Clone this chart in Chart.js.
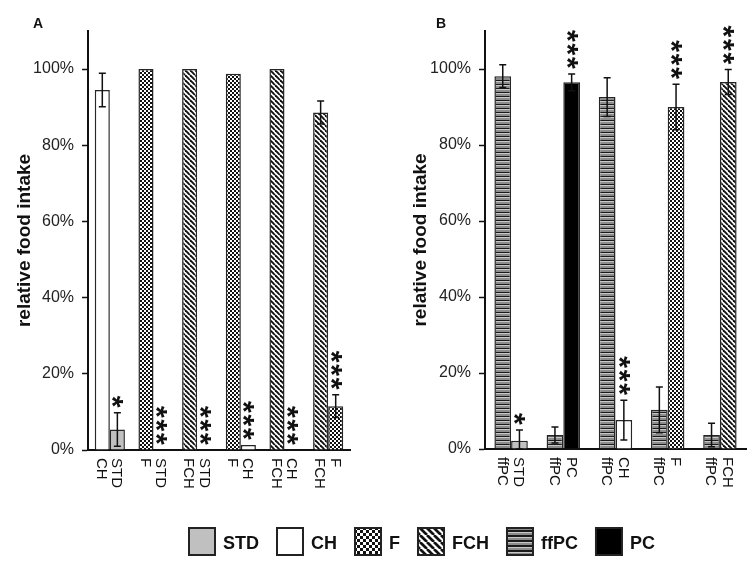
<!DOCTYPE html>
<html>
<head>
<meta charset="utf-8">
<script src="https://cdn.jsdelivr.net/npm/chart.js@4.4.1/dist/chart.umd.min.js"></script>
<style>
  body { margin: 0; background: #fff; }
  #wrap { position: relative; width: 756px; height: 564px; }
  canvas { position: absolute; }
</style>
</head>
<body>
<div id="wrap">
  <canvas id="chartA" width="378" height="500" style="left:0;top:0;width:378px;height:500px"></canvas>
  <canvas id="chartB" width="378" height="500" style="left:378px;top:0;width:378px;height:500px"></canvas>
  <canvas id="legend" width="756" height="64" style="left:0;top:500px;width:756px;height:64px"></canvas>
</div>
<script>
// Panel A: left bar / right bar of each pair
const aLeftNames = ["CH", "F", "FCH", "F", "FCH", "FCH"];
const aRightNames = ["STD", "STD", "STD", "CH", "CH", "F"];
const aLeftValues = [94.5, 100, 100, 98.8, 100, 88.6];
const aLeftErrors = [4.4, 0, 0, 0, 0, 3.0];
const aRightValues = [5.4, 0, 0, 1.3, 0, 11.5];
const aRightErrors = [4.4, 0, 0, 0, 0, 3.0];
const aLeftSig = ["", "", "", "", "", ""];
const aRightSig = ["*", "***", "***", "***", "***", "***"];

// Panel B
const bLeftNames = ["ffPC", "ffPC", "ffPC", "ffPC", "ffPC"];
const bRightNames = ["STD", "PC", "CH", "F", "FCH"];
const bLeftValues = [98.1, 3.7, 92.6, 10.3, 3.7];
const bLeftErrors = [3.0, 2.1, 5.1, 6.0, 3.1];
const bRightValues = [2.2, 96.5, 7.6, 90.0, 96.6];
const bRightErrors = [2.8, 2.2, 5.2, 6.0, 3.3];
const bLeftSig = ["", "", "", "", ""];
const bRightSig = ["*", "***", "***", "***", "***"];

const yTicks = [0, 20, 40, 60, 80, 100];
const legendNames = ["STD", "CH", "F", "FCH", "ffPC", "PC"];

const FONT = "'Liberation Sans', Arial, sans-serif";

// fill patterns for each diet
function makeFill(name, ctx, s) {
  if (name === "STD") return "#c0c0c0";
  if (name === "CH") return "#ffffff";
  if (name === "PC") return "#000000";
  const c = document.createElement("canvas");
  const g = c.getContext("2d");
  if (name === "F") {
    const cell = s > 1 ? 3 : 2;
    c.width = c.height = cell * 2;
    g.fillStyle = "#ffffff";
    g.fillRect(0, 0, cell * 2, cell * 2);
    g.fillStyle = "#111111";
    g.fillRect(0, 0, cell, cell);
    g.fillRect(cell, cell, cell, cell);
  } else if (name === "FCH") {
    const t = s > 1 ? 7 : 5;
    c.width = c.height = t;
    g.fillStyle = "#ffffff";
    g.fillRect(0, 0, t, t);
    g.strokeStyle = "#111111";
    g.lineWidth = t * 0.38;
    [-t, 0, t].forEach((o) => {
      g.beginPath();
      g.moveTo(o, 0);
      g.lineTo(o + t, t);
      g.stroke();
    });
  } else if (name === "ffPC") {
    const h = s > 1 ? 5 : 4;
    c.width = 4;
    c.height = h;
    g.fillStyle = "#8c8c8c";
    g.fillRect(0, 0, 4, h);
    g.fillStyle = "#1a1a1a";
    g.fillRect(0, 0, 4, s > 1 ? 2 : 1);
    g.fillStyle = "#c8c8c8";
    g.fillRect(0, s > 1 ? 2 : 1, 4, 1);
  }
  return ctx.createPattern(c, "repeat");
}

function drawStar(ctx, x, cy) {
  ctx.save();
  ctx.translate(x, cy);
  ctx.rotate(Math.PI / 2);
  ctx.font = "bold 30px " + FONT;
  ctx.textAlign = "left";
  ctx.textBaseline = "alphabetic";
  const m = ctx.measureText("*");
  const cx = (m.actualBoundingBoxRight - m.actualBoundingBoxLeft) / 2;
  const cyy = (m.actualBoundingBoxDescent - m.actualBoundingBoxAscent) / 2;
  ctx.fillStyle = "#111";
  ctx.fillText("*", -cx, -cyy);
  ctx.restore();
}

const overlay = {
  id: "overlay",
  afterDatasetsDraw(chart, args, opts) {
    const ctx = chart.ctx;
    const y = chart.scales.y;
    const bottom = chart.chartArea.bottom;
    chart.data.datasets.forEach((ds, di) => {
      const meta = chart.getDatasetMeta(di);
      meta.data.forEach((bar, i) => {
        const v = ds.data[i];
        const e = ds.err[i];
        let top = y.getPixelForValue(v);
        ctx.save();
        if (e > 0) {
          const y1 = y.getPixelForValue(v + e);
          const y2 = y.getPixelForValue(Math.max(0, v - e));
          ctx.strokeStyle = "#111";
          ctx.lineWidth = 1.5;
          ctx.beginPath();
          ctx.moveTo(bar.x, y1);
          ctx.lineTo(bar.x, y2);
          ctx.moveTo(bar.x - 3.5, y1);
          ctx.lineTo(bar.x + 3.5, y1);
          ctx.moveTo(bar.x - 3.5, y2);
          ctx.lineTo(bar.x + 3.5, y2);
          ctx.stroke();
          top = y1;
        }
        ctx.restore();
        const sig = ds.sig[i];
        for (let k = 0; k < sig.length; k++) {
          drawStar(ctx, bar.x, top - 11 - k * 13.5);
        }
        // rotated label under the bar
        ctx.save();
        ctx.translate(bar.x, bottom + 8);
        ctx.rotate(Math.PI / 2);
        ctx.font = "15px " + FONT;
        ctx.fillStyle = "#111";
        ctx.textAlign = "left";
        ctx.textBaseline = "middle";
        ctx.fillText(ds.names[i], 0, 1);
        ctx.restore();
      });
    });
    ctx.save();
    ctx.font = "bold 14px " + FONT;
    ctx.fillStyle = "#111";
    ctx.textAlign = "left";
    ctx.textBaseline = "alphabetic";
    ctx.fillText(opts.letter, opts.letterX, 28);
    ctx.restore();
  },
};

function buildChart(id, cfg) {
  const canvas = document.getElementById(id);
  const ctx = canvas.getContext("2d");
  const mk = (names, values, errs, sig) => ({
    data: values,
    err: errs,
    sig: sig,
    names: names,
    backgroundColor: names.map((n) => makeFill(n, ctx, 1)),
    borderColor: "#262626",
    borderWidth: 1.5,
    categoryPercentage: cfg.catPct,
    barPercentage: 1.0,
  });
  return new Chart(canvas, {
    type: "bar",
    data: {
      labels: cfg.left.map((n, i) => n + "/" + cfg.right[i]),
      datasets: [
        mk(cfg.left, cfg.leftValues, cfg.leftErrors, cfg.leftSig),
        mk(cfg.right, cfg.rightValues, cfg.rightErrors, cfg.rightSig),
      ],
    },
    options: {
      responsive: false,
      animation: false,
      layout: { padding: { top: 31, right: cfg.padRight, left: 0, bottom: 0 } },
      plugins: {
        legend: { display: false },
        tooltip: { enabled: false },
        overlay: { letter: cfg.letter, letterX: cfg.letterX },
      },
      scales: {
        x: {
          grid: { display: false },
          ticks: { display: false },
          border: { color: "#111", width: 2 },
          afterFit: (scale) => {
            scale.height = cfg.xHeight;
          },
        },
        y: {
          min: 0,
          max: 110,
          afterBuildTicks: (scale) => {
            scale.ticks = yTicks.map((v) => ({ value: v }));
          },
          ticks: {
            padding: 8,
            color: "#222",
            font: { family: FONT, size: 16 },
            callback: (v) => v + "%",
          },
          grid: {
            drawOnChartArea: false,
            drawTicks: true,
            tickLength: 6,
            tickColor: "#111",
            tickWidth: 1.5,
          },
          border: { color: "#111", width: 2 },
          title: {
            display: true,
            text: "relative food intake",
            color: "#111",
            font: { family: FONT, size: 19, weight: "bold" },
            padding: { top: cfg.titlePad, bottom: 0 },
          },
          afterFit: (scale) => {
            scale.width = cfg.yWidth;
          },
        },
      },
    },
    plugins: [overlay],
  });
}

buildChart("chartA", {
  left: aLeftNames, right: aRightNames,
  leftValues: aLeftValues, rightValues: aRightValues,
  leftErrors: aLeftErrors, rightErrors: aRightErrors,
  leftSig: aLeftSig, rightSig: aRightSig,
  catPct: 0.69, padRight: 28, yWidth: 88, xHeight: 50, titlePad: 13.5,
  letter: "A", letterX: 33,
});

buildChart("chartB", {
  left: bLeftNames, right: bRightNames,
  leftValues: bLeftValues, rightValues: bRightValues,
  leftErrors: bLeftErrors, rightErrors: bRightErrors,
  leftSig: bLeftSig, rightSig: bRightSig,
  catPct: 0.64, padRight: 10, yWidth: 107, xHeight: 51, titlePad: 31.5,
  letter: "B", letterX: 58,
});

// shared legend
(function drawLegend() {
  const c = document.getElementById("legend");
  const ctx = c.getContext("2d");
  ctx.font = "bold 18px " + FONT;
  let x = 189;
  legendNames.forEach((n) => {
    ctx.fillStyle = makeFill(n, ctx, 2);
    ctx.fillRect(x, 28, 26, 27);
    ctx.strokeStyle = "#222";
    ctx.lineWidth = 2;
    ctx.strokeRect(x, 28, 26, 27);
    ctx.fillStyle = "#111";
    ctx.textBaseline = "alphabetic";
    ctx.fillText(n, x + 34, 49);
    x += 26 + 8 + ctx.measureText(n).width + 18;
  });
})();
</script>
</body>
</html>
